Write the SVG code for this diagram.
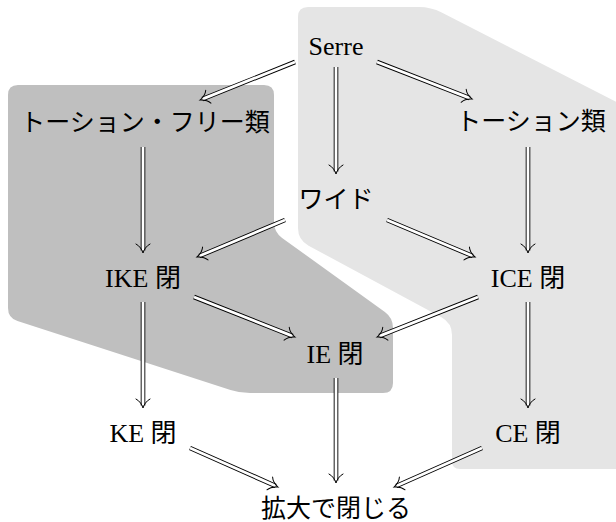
<svg xmlns="http://www.w3.org/2000/svg" width="616" height="522" viewBox="0 0 616 522">
<style>
.t{font-family:"Liberation Serif","Noto Sans CJK JP",serif;font-size:25px;fill:#000;text-anchor:middle}
.l{font-size:26px}
.o{stroke:#000;stroke-width:4.6;fill:none}
.i{stroke:#fff;stroke-width:2.8;fill:none;marker-end:url(#tip)}
</style>
<defs>
<marker id="tip" markerUnits="userSpaceOnUse" markerWidth="20" markerHeight="20" viewBox="-10 -10 20 20" refX="0" refY="0" orient="auto" overflow="visible">
<path d="M-6.5,-7 C-4.5,-3 -0.5,-1 2.5,0 C-0.5,1 -4.5,3 -6.5,7" fill="none" stroke="#000" stroke-width="1" stroke-linecap="round"/>
</marker>
</defs>
<g id="regions">
<path id="light" fill="#e5e5e5" d="M298,17 Q298,7 308,7 L419,7 Q431,7 441.7,12.5 L640,114 L640,469 L460,469 Q452,469 452,461 L452,335 Q452,323 441.4,317.3 L308.6,245.7 Q298,240 298,228 Z"/>
<path id="dark" fill="#bfbfbf" d="M8,95 Q8,85 18,85 L264,85 Q274,85 274,95 L274,222 Q274,232 282.1,237.9 L384.9,312.1 Q393,318 393,328 L393,383 Q393,393 383,393 L250,393 Q240,393 230.5,389.9 L17.5,321.1 Q8,318 8,308 Z"/>
</g>
<g id="connectors">
<line class="o" x1="295" y1="62" x2="202.3" y2="99.1"/><line class="i" x1="295" y1="62" x2="202.3" y2="99.1"/>
<line class="o" x1="377" y1="62" x2="469.7" y2="98.1"/><line class="i" x1="377" y1="62" x2="469.7" y2="98.1"/>
<line class="o" x1="336" y1="67" x2="336" y2="171.5"/><line class="i" x1="336" y1="67" x2="336" y2="171.5"/>
<line class="o" x1="285" y1="220" x2="199.3" y2="256"/><line class="i" x1="285" y1="220" x2="199.3" y2="256"/>
<line class="o" x1="387" y1="220" x2="472.7" y2="256"/><line class="i" x1="387" y1="220" x2="472.7" y2="256"/>
<line class="o" x1="143" y1="147" x2="143" y2="250.5"/><line class="i" x1="143" y1="147" x2="143" y2="250.5"/>
<line class="o" x1="528" y1="147" x2="528" y2="250.5"/><line class="i" x1="528" y1="147" x2="528" y2="250.5"/>
<line class="o" x1="194" y1="297" x2="292.7" y2="336.1"/><line class="i" x1="194" y1="297" x2="292.7" y2="336.1"/>
<line class="o" x1="478" y1="297" x2="379.3" y2="336.1"/><line class="i" x1="478" y1="297" x2="379.3" y2="336.1"/>
<line class="o" x1="143" y1="302" x2="143" y2="405.5"/><line class="i" x1="143" y1="302" x2="143" y2="405.5"/>
<line class="o" x1="528" y1="302" x2="528" y2="405.5"/><line class="i" x1="528" y1="302" x2="528" y2="405.5"/>
<line class="o" x1="336" y1="378" x2="336" y2="480.5"/><line class="i" x1="336" y1="378" x2="336" y2="480.5"/>
<line class="o" x1="190" y1="448" x2="275.7" y2="486"/><line class="i" x1="190" y1="448" x2="275.7" y2="486"/>
<line class="o" x1="482" y1="448" x2="396.3" y2="486"/><line class="i" x1="482" y1="448" x2="396.3" y2="486"/>
</g>
<g id="serre"><text class="t l" x="336" y="55">Serre</text></g>
<g id="torsionfree"><text class="t" x="145" y="131">トーション・フリー類</text></g>
<g id="torsion"><text class="t" x="531" y="130">トーション類</text></g>
<g id="wide"><text class="t" x="336" y="208">ワイド</text></g>
<g id="ike"><text class="t l" x="143" y="287">IKE 閉</text></g>
<g id="ice"><text class="t l" x="528" y="287">ICE 閉</text></g>
<g id="ie"><text class="t l" x="335" y="363">IE 閉</text></g>
<g id="ke"><text class="t l" x="143" y="442">KE 閉</text></g>
<g id="ce"><text class="t l" x="528" y="442">CE 閉</text></g>
<g id="ext"><text class="t" x="336" y="517">拡大で閉じる</text></g>
</svg>
